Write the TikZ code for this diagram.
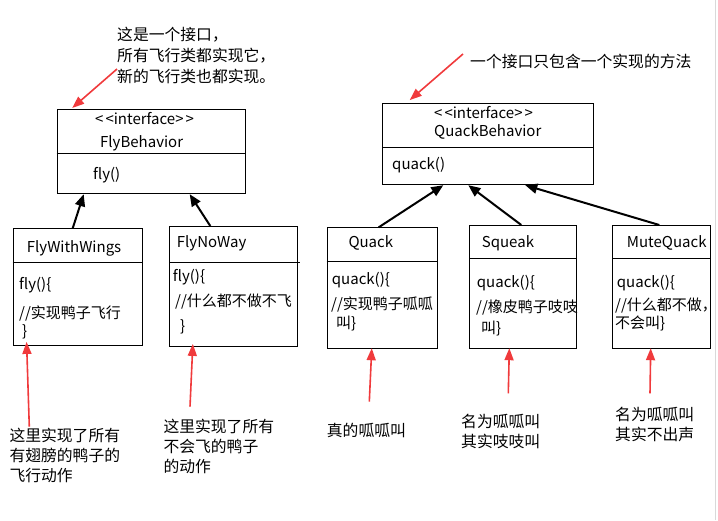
\documentclass[tikz,border=0pt]{standalone}
\usepackage{fontspec}
\setmainfont{Noto Sans CJK SC}
\usetikzlibrary{arrows.meta,positioning}
\definecolor{notered}{RGB}{240,58,60}

\begin{document}
\begin{tikzpicture}[x=1pt, y=-1pt, >=Triangle,
    umlbox/.style={rectangle, draw, line width=0.9pt, anchor=north west, inner sep=0pt},
    boxtext/.style={anchor=west, inner sep=0pt, font=\fontsize{15}{17}\selectfont},
    note/.style={anchor=north west, inner sep=0pt, align=left, font=\fontsize{15.8}{20}\selectfont},
    implarrow/.style={-{Triangle[length=12pt,width=10pt]}, line width=2pt},
    notearrow/.style={-{Triangle[length=12pt,width=9pt]}, line width=1.6pt, draw=notered, fill=notered, shorten >=2pt}]
    \useasboundingbox (0,0) rectangle (718,520);
    \draw[gray!30] (715.5,0) -- (715.5,520);

    % Interfaces
    \node (flyb) [umlbox, minimum width=188pt, minimum height=84pt] at (56.7,109.3) {};
    \draw[line width=0.9pt] (flyb.west |- 0,153.3) -- (flyb.east |- 0,153.3);
    \node (flybstereo) [boxtext] at (95,119) {<\kern2pt<interface>\kern2pt>};
    \node (flybname) [boxtext] at (100,143) {FlyBehavior};
    \node (flybop) [boxtext] at (93,175) {fly()};

    \node (qb) [umlbox, minimum width=211pt, minimum height=81.6pt] at (382.3,102.7) {};
    \draw[line width=0.9pt] (qb.west |- 0,147.3) -- (qb.east |- 0,147.3);
    \node (qbstereo) [boxtext] at (434,113) {<\kern2pt<interface>\kern2pt>};
    \node (qbname) [boxtext] at (434,131.7) {QuackBehavior};
    \node (qbop) [boxtext] at (392,165) {quack()};

    % Fly classes
    \node (fww) [umlbox, minimum width=129pt, minimum height=116.7pt] at (12.7,228.3) {};
    \draw[line width=0.9pt] (fww.west |- 0,262.3) -- (fww.east |- 0,262.3);
    \node (fwwname) [boxtext] at (26.7,248.3) {FlyWithWings};
    \node (fwwop) [boxtext] at (19,285) {fly()\{};
    \node (fwwbody) [boxtext] at (19,313) {//实现鸭子飞行};
    \node (fwwend) [boxtext] at (22,331.7) {\}};

    \node (fnw) [umlbox, minimum width=128pt, minimum height=120pt] at (169.3,226) {};
    \draw[line width=0.9pt] (fnw.west |- 0,262.3) -- ([xshift=2pt]fnw.east |- 0,262.3);
    \node (fnwname) [boxtext] at (176.7,243.3) {FlyNoWay};
    \node (fnwop) [boxtext] at (172.7,276.7) {fly()\{};
    \node (fnwbody) [boxtext] at (175,301.7) {//什么都不做不飞};
    \node (fnwend) [boxtext] at (180,326.7) {\}};

    % Quack classes
    \node (quack) [umlbox, minimum width=110pt, minimum height=121pt] at (326.7,227.3) {};
    \draw[line width=0.9pt] (quack.west |- 0,261.7) -- (quack.east |- 0,261.7);
    \node (quackname) [boxtext] at (348.3,243.3) {Quack};
    \node (quackop) [boxtext] at (331.7,280) {quack()\{};
    \node (quackbody) [boxtext] at (331,304.3) {//实现鸭子呱呱};
    \node (quackend) [boxtext] at (336,323.3) {叫\}};

    \node (squeak) [umlbox, minimum width=106.4pt, minimum height=123.3pt] at (469.3,225) {};
    \draw[line width=0.9pt] (squeak.west |- 0,258.3) -- (squeak.east |- 0,258.3);
    \node (squeakname) [boxtext] at (481.7,243.3) {Squeak};
    \node (squeakop) [boxtext] at (476.7,283.3) {quack()\{};
    \node (squeakbody) [boxtext] at (476,307.7) {//橡皮鸭子吱吱};
    \node (squeakend) [boxtext] at (481,328.3) {叫\}};

    \node (mute) [umlbox, minimum width=97.7pt, minimum height=123.3pt] at (612.3,225) {};
    \draw[line width=0.9pt] (mute.west |- 0,258.3) -- (mute.east |- 0,258.3);
    \begin{scope}
        \clip (mute.north west) rectangle (mute.south east);
        \node (mutename) [boxtext] at (626.7,243.3) {MuteQuack};
        \node (muteop) [boxtext] at (616.7,283.3) {quack()\{};
        \node (mutebody) [boxtext] at (615,305.7) {//什么都不做，};
        \node (muteend) [boxtext] at (615,323.3) {不会叫\}};
    \end{scope}

    % Implementation arrows
    \draw[implarrow] ([xshift=60pt]fww.north west) -- ([xshift=27pt]flyb.south west);
    \draw[implarrow] ([xshift=41pt]fnw.north west) -- ([xshift=133pt]flyb.south west);
    \draw[implarrow] ([xshift=52pt]quack.north west) -- ([xshift=61pt]qb.south west);
    \draw[implarrow] ([xshift=52pt]squeak.north west) -- ([xshift=86pt]qb.south west);
    \draw[implarrow] ([xshift=47pt]mute.north west) -- ([xshift=143pt]qb.south west);

    % Notes
    \node (flynote) [note, font=\fontsize{15.8}{21}\selectfont] at (117,27) {这是一个接口，\\所有飞行类都实现它，\\新的飞行类也都实现。};
    \node (quacknote) [note, anchor=west] at (470,61) {一个接口只包含一个实现的方法};
    \node (fwwnote) [note] at (9.3,428) {这里实现了所有\\有翅膀的鸭子的\\飞行动作};
    \node (fnwnote) [note] at (163.3,419) {这里实现了所有\\不会飞的鸭子\\的动作};
    \node (quacknote2) [note, anchor=west] at (326.7,430) {真的呱呱叫};
    \node (squeaknote) [note] at (461,414) {名为呱呱叫\\其实吱吱叫};
    \node (mutenote) [note] at (615,407) {名为呱呱叫\\其实不出声};

    \coordinate (flytail) at (117,69);
    \coordinate (qbtail) at (463,54);
    \coordinate (fwwtail) at (29.3,426.7);
    \coordinate (fnwtail) at (190,406.7);
    \coordinate (quacktail) at (369.3,401.7);
    \coordinate (squeaktail) at (508.3,393.3);
    \coordinate (mutetail) at (650,393.3);

    \draw[notearrow] (flytail) -- ([xshift=14pt]flyb.north west);
    \draw[notearrow, shorten >=4pt] (qbtail) -- ([xshift=24.4pt]qb.north west);
    \draw[notearrow, shorten >=-4pt] (fwwtail) -- ([xshift=14pt]fww.south west);
    \draw[notearrow, shorten >=-3pt] (fnwtail) -- ([xshift=23.4pt]fnw.south west);
    \draw[notearrow, shorten >=-1pt] (quacktail) -- ([xshift=45pt]quack.south west);
    \draw[notearrow, shorten >=-1pt] (squeaktail) -- ([xshift=40pt]squeak.south west);
    \draw[notearrow, shorten >=-1pt] (mutetail) -- ([xshift=38.4pt]mute.south west);
\end{tikzpicture}
\end{document}
